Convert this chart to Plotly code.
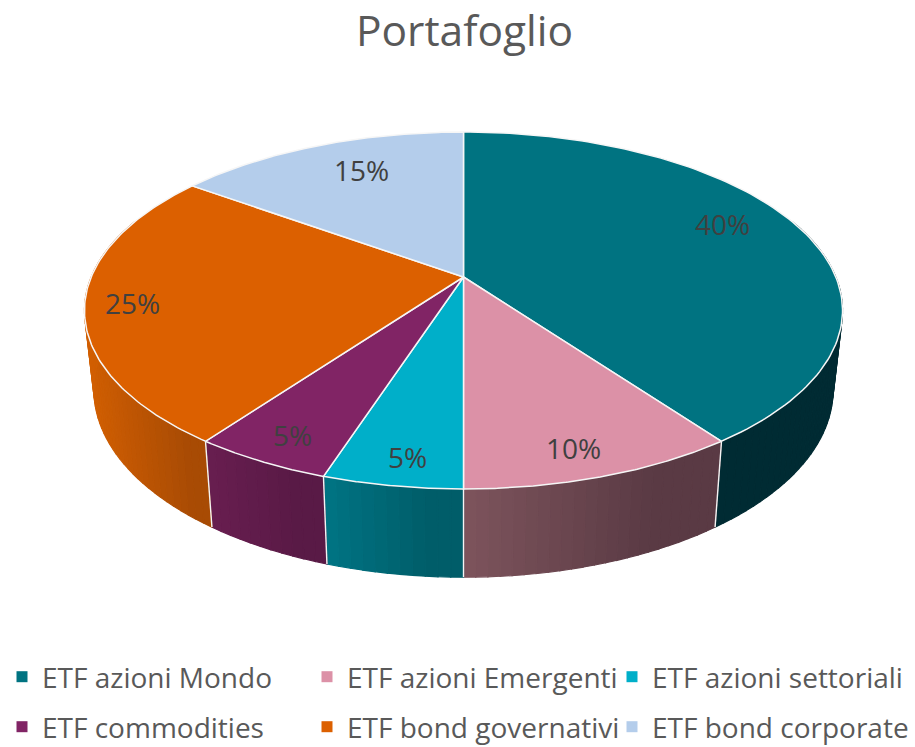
import numpy as np
import plotly.graph_objects as go

categories = ["ETF azioni Mondo", "ETF azioni Emergenti", "ETF azioni settoriali",
              "ETF commodities", "ETF bond governativi", "ETF bond corporate"]
values = [40, 10, 5, 5, 25, 15]
top_colors = ["#007381", "#dc91a7", "#00afc9", "#812465", "#dc6000", "#b4cdeb"]
wall_left = ["#002b33", "#7d545c", "#007484", "#681e50", "#bd5503", "#8a9db4"]
wall_right = ["#002b33", "#5a3a44", "#005d69", "#591a46", "#a84b04", "#8a9db4"]
label_xy = [(722, 224), (573, 448), (407, 457), (292, 435), (132, 303), (361, 170)]
W, H = 940, 775   # canvas a little larger than the window so legend padding does not push margins
CX = 463.5

def proj(theta, r=1.0, y0=277.0, ry=172.2, rx=372.3, k=0.1877):
    v = r * np.cos(theta)
    d = 1 + k * v
    return CX + rx * r * np.sin(theta) / d, y0 - ry * v / d

def bottom(theta):
    return proj(theta, y0=355.0, ry=180.5, rx=363.0)

def mix(a, b, t):
    ca = [int(a[i:i + 2], 16) for i in (1, 3, 5)]
    cb = [int(b[i:i + 2], 16) for i in (1, 3, 5)]
    c = [round(x + (y - x) * t) for x, y in zip(ca, cb)]
    return f"rgb({c[0]},{c[1]},{c[2]})"

fig = go.Figure()
edges = np.radians(np.cumsum([0] + values) * 3.6)
VIS0, VIS1 = np.radians(70), np.radians(290)

# side walls
separators = []
for i in range(len(values)):
    a, b = max(edges[i], VIS0), min(edges[i + 1], VIS1)
    if b <= a:
        continue
    n = max(2, int((b - a) / np.radians(1.5)))
    ths = np.linspace(a, b, n + 1)
    xa, xb = proj(a)[0], proj(b)[0]
    xl, xr = min(xa, xb), max(xa, xb)
    for t0, t1 in zip(ths[:-1], ths[1:]):
        arc = np.linspace(t0, t1, 4)
        tx, ty = proj(arc)
        bx, by = bottom(arc[::-1])
        frac = (0.5 * (proj(t0)[0] + proj(t1)[0]) - xl) / max(xr - xl, 1)
        col = mix(wall_left[i], wall_right[i], min(1.0, frac * 1.35))
        fig.add_trace(go.Scatter(x=list(tx) + list(bx) + [tx[0]], y=list(ty) + list(by) + [ty[0]],
                                 mode="lines", fill="toself", fillcolor=col,
                                 line=dict(color=col, width=1.2),
                                 showlegend=False, hoverinfo="skip"))
    for e in (edges[i], edges[i + 1]):
        if VIS0 < e < VIS1:
            separators.append(e)

for e in sorted(set(separators)):
    px, py = proj(e)
    qx, qy = bottom(e)
    fig.add_trace(go.Scatter(x=[px, qx], y=[py, qy], mode="lines",
                             line=dict(color="#f4f4f4", width=1.4),
                             showlegend=False, hoverinfo="skip"))

# top faces
for i, cat in enumerate(categories):
    arc = np.linspace(edges[i], edges[i + 1], 120)
    ax, ay = proj(arc)
    ox, oy = proj(0.0, r=0.0)
    fig.add_trace(go.Scatter(x=[ox] + list(ax) + [ox], y=[oy] + list(ay) + [oy], mode="lines",
                             fill="toself", fillcolor=top_colors[i],
                             line=dict(color="#f6f6f6", width=1.5),
                             name=cat, showlegend=False, hoverinfo="name"))

# legend entries
for i, cat in enumerate(categories):
    fig.add_trace(go.Scatter(x=[None], y=[None], mode="markers", name=cat,
                             marker=dict(symbol="square", size=11, color=top_colors[i]),
                             legend="legend" if i < 3 else "legend2"))

annotations = [dict(x=x, y=y, text=f"{v}%", showarrow=False, xref="x", yref="y",
                    font=dict(family="Open Sans", size=28, color="#404040"))
               for (x, y), v in zip(label_xy, values)]

leg = dict(orientation="h", xanchor="left", yanchor="middle", x=2 / W,
           font=dict(family="Open Sans", size=28, color="#595959"),
           entrywidthmode="pixels", entrywidth=260, itemwidth=30,
           bgcolor="rgba(0,0,0,0)", traceorder="normal")

fig.update_layout(
    width=W, height=H, autosize=False,
    margin=dict(l=0, r=0, t=0, b=0),
    paper_bgcolor="white", plot_bgcolor="white",
    title=dict(text="Portafoglio", x=464.5 / W, xanchor="center", y=1 - 31 / H, yanchor="middle",
               font=dict(family="Open Sans", size=42.5, color="#595959")),
    xaxis=dict(range=[0, W], visible=False, fixedrange=True),
    yaxis=dict(range=[H, 0], visible=False, fixedrange=True),
    annotations=annotations,
    legend=dict(leg, y=1 - 677 / H),
    legend2=dict(leg, y=1 - 727 / H),
    showlegend=True,
)
fig.write_html("out.html", config=dict(displayModeBar=False),
               post_script="document.body.style.margin='0';document.body.style.overflow='hidden';document.documentElement.style.overflow='hidden';")
